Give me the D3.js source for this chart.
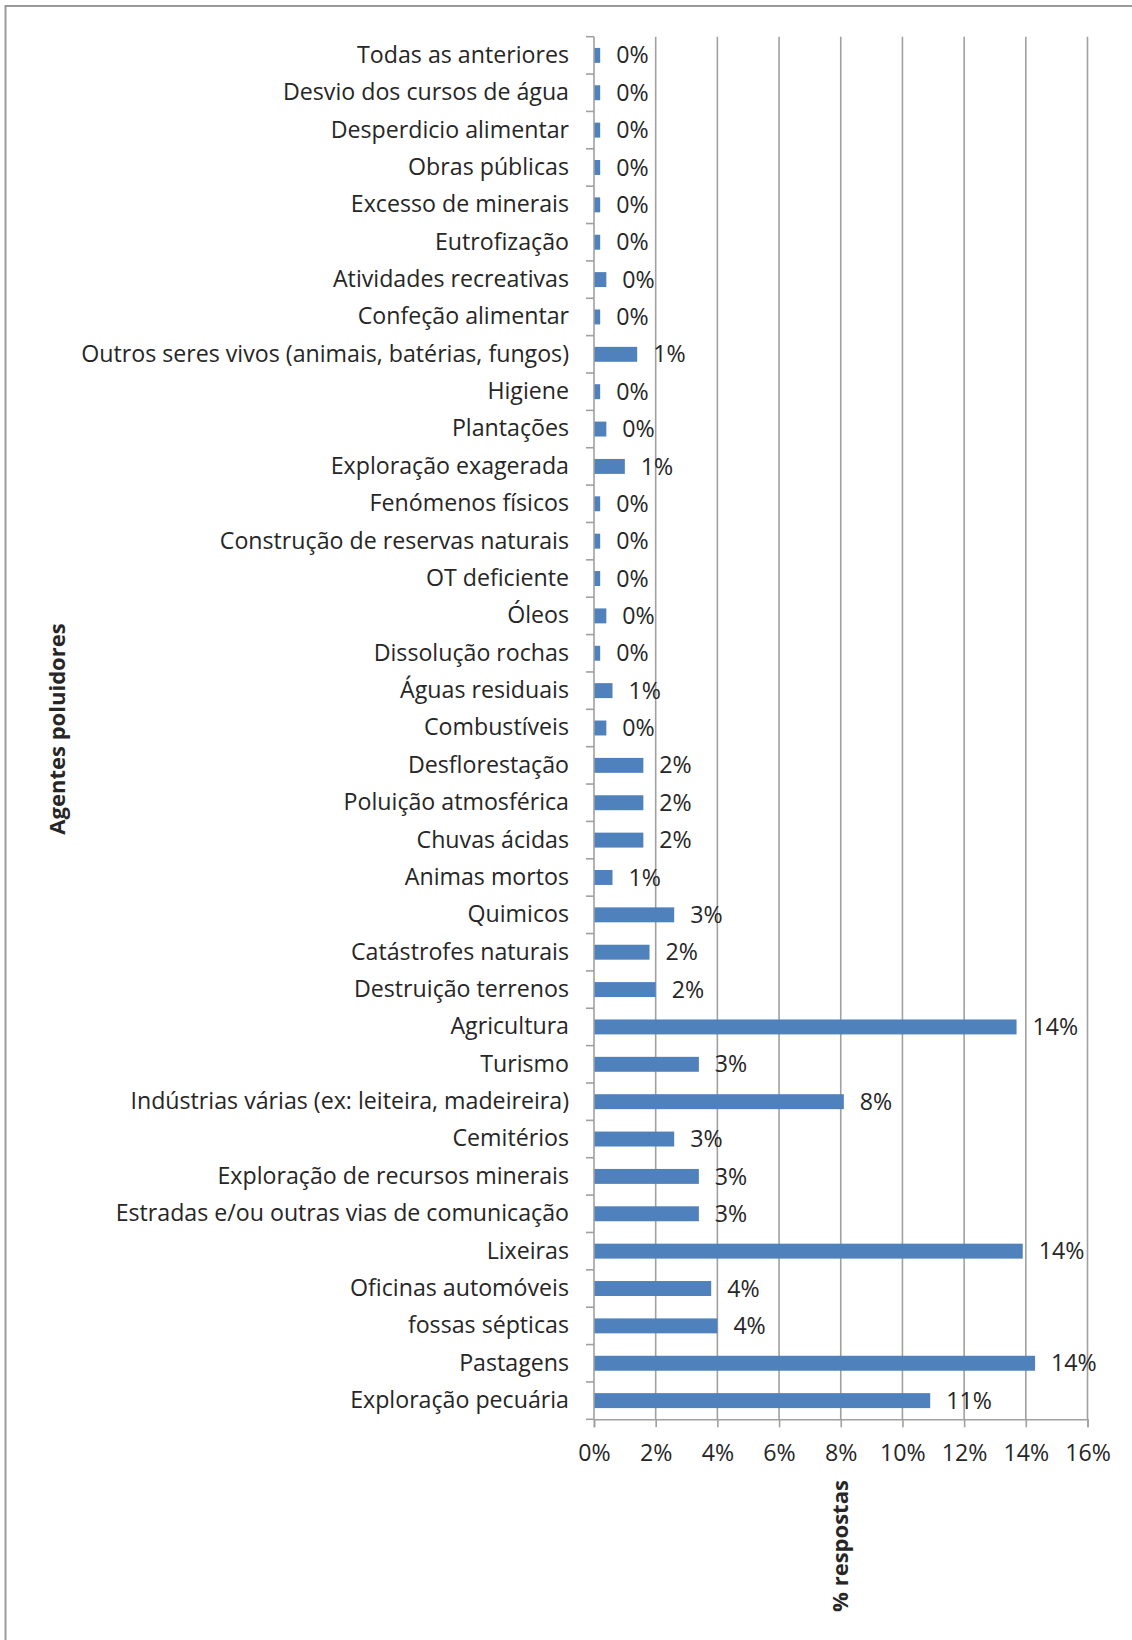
<!DOCTYPE html>
<html>
<head>
<meta charset="utf-8">
<script src="https://cdn.jsdelivr.net/npm/d3@7"></script>
<style>
  body { margin: 0; background: #fff; }
  svg text { font-family: "Open Sans", sans-serif; fill: #262626; }
</style>
</head>
<body>
<script>
// Categories, top to bottom as they appear in the chart
var categories = [
    "Todas as anteriores",
    "Desvio dos cursos de água",
    "Desperdicio alimentar",
    "Obras públicas",
    "Excesso de minerais",
    "Eutrofização",
    "Atividades recreativas",
    "Confeção alimentar",
    "Outros seres vivos (animais, batérias, fungos)",
    "Higiene",
    "Plantações",
    "Exploração exagerada",
    "Fenómenos físicos",
    "Construção de reservas naturais",
    "OT deficiente",
    "Óleos",
    "Dissolução rochas",
    "Águas residuais",
    "Combustíveis",
    "Desflorestação",
    "Poluição atmosférica",
    "Chuvas ácidas",
    "Animas mortos",
    "Quimicos",
    "Catástrofes naturais",
    "Destruição terrenos",
    "Agricultura",
    "Turismo",
    "Indústrias várias (ex: leiteira, madeireira)",
    "Cemitérios",
    "Exploração de recursos minerais",
    "Estradas e/ou outras vias de comunicação",
    "Lixeiras",
    "Oficinas automóveis",
    "fossas sépticas",
    "Pastagens",
    "Exploração pecuária"
]

// % respostas for each category (same order)
var values = [
    0.2, 0.2, 0.2, 0.2, 0.2, 0.2, 0.4, 0.2, 1.4, 0.2,
    0.4, 1.0, 0.2, 0.2, 0.2, 0.4, 0.2, 0.6, 0.4, 1.6,
    1.6, 1.6, 0.6, 2.6, 1.8, 2.0, 13.7, 3.4, 8.1, 2.6,
    3.4, 3.4, 13.9, 3.8, 4.0, 14.3, 10.9
]

var xTicks = [0, 2, 4, 6, 8, 10, 12, 14, 16]

var yTitle = "Agentes poluidores"
var xTitle = "% respostas"

var data = categories.map(function(c, i) { return {name: c, value: values[i]}; })

var width = 1132
var height = 1640
var plot = {left: 594, right: 1087.5, top: 36.7, bottom: 1419.3}
var gridColor = "#a0a0a0"
var barColor = "#4f81bd"

var svg = d3.select("body").append("svg")
    .attr("width", width)
    .attr("height", height)

// pick a font size so the longest label is as wide as in the original
var probe = svg.append("text").attr("font-size", 20)
    .text("Outros seres vivos (animais, batérias, fungos)")
var fontSize = 20 * 488 / probe.node().getComputedTextLength()
probe.remove()
var titleSize = fontSize * 0.95

// outer chart border (runs off the right / bottom edge)
svg.append("rect")
    .attr("x", 5.5).attr("y", 6)
    .attr("width", width + 20).attr("height", height + 20)
    .attr("fill", "none")
    .attr("stroke", "#9a9a9a")
    .attr("stroke-width", 2)

var xScale = d3.scaleLinear()
    .domain([0, 16])
    .range([plot.left, plot.right])

var yScale = d3.scaleBand()
    .domain(categories)
    .range([plot.top, plot.bottom])
    .paddingInner(0.6)
    .paddingOuter(0.3)

// vertical gridlines
svg.append("g").selectAll("line")
    .data(xTicks.filter(function(d) { return d > 0; }))
    .join("line")
    .attr("x1", d => xScale(d)).attr("x2", d => xScale(d))
    .attr("y1", plot.top).attr("y2", plot.bottom)
    .attr("stroke", gridColor)
    .attr("stroke-width", 1.6)

// bars
svg.append("g").selectAll("rect")
    .data(data)
    .join("rect")
    .attr("x", xScale(0))
    .attr("y", d => yScale(d.name))
    .attr("width", d => xScale(d.value) - xScale(0))
    .attr("height", yScale.bandwidth())
    .attr("fill", barColor)

// data labels
svg.append("g").selectAll("text")
    .data(data)
    .join("text")
    .attr("x", d => xScale(d.value) + 16)
    .attr("y", d => yScale(d.name) + yScale.bandwidth() / 2)
    .attr("dy", "0.35em")
    .attr("font-size", fontSize)
    .text(d => Math.round(d.value) + "%")

// category axis: labels
var yAxis = svg.append("g")
    .attr("transform", "translate(" + plot.left + ",0)")
    .call(d3.axisLeft(yScale).tickSize(0).tickPadding(25))
yAxis.select(".domain").remove()
yAxis.selectAll("text")
    .attr("font-size", fontSize)
    .attr("font-family", null)
    .attr("fill", null)

// category axis: line and ticks on the band boundaries
var step = yScale.step()
var bounds = categories.map(c => yScale(c) - (step - yScale.bandwidth()) / 2)
bounds.push(plot.bottom)
svg.append("line")
    .attr("x1", plot.left).attr("x2", plot.left)
    .attr("y1", plot.top).attr("y2", plot.bottom)
    .attr("stroke", gridColor).attr("stroke-width", 1.6)
svg.append("g").selectAll("line")
    .data(bounds)
    .join("line")
    .attr("x1", plot.left - 8).attr("x2", plot.left)
    .attr("y1", d => d).attr("y2", d => d)
    .attr("stroke", gridColor).attr("stroke-width", 1.6)

// value axis
var xAxis = svg.append("g")
    .attr("transform", "translate(0," + plot.bottom + ")")
    .call(d3.axisBottom(xScale).tickValues(xTicks).tickSize(8).tickPadding(17)
        .tickFormat(d => d + "%"))
xAxis.select(".domain").attr("stroke", gridColor).attr("stroke-width", 1.6)
xAxis.selectAll(".tick line").attr("stroke", gridColor).attr("stroke-width", 1.6)
xAxis.selectAll("text")
    .attr("font-size", fontSize)
    .attr("font-family", null)
    .attr("fill", null)

// axis titles (both rotated, like the original)
svg.append("text")
    .attr("transform", "translate(57,729) rotate(-90)")
    .attr("text-anchor", "middle")
    .attr("dy", "0.35em")
    .attr("font-size", titleSize)
    .attr("font-weight", "bold")
    .text(yTitle)

svg.append("text")
    .attr("transform", "translate(" + xScale(8) + ",1546) rotate(-90)")
    .attr("text-anchor", "middle")
    .attr("dy", "0.35em")
    .attr("font-size", titleSize)
    .attr("font-weight", "bold")
    .text(xTitle)
</script>
</body>
</html>
